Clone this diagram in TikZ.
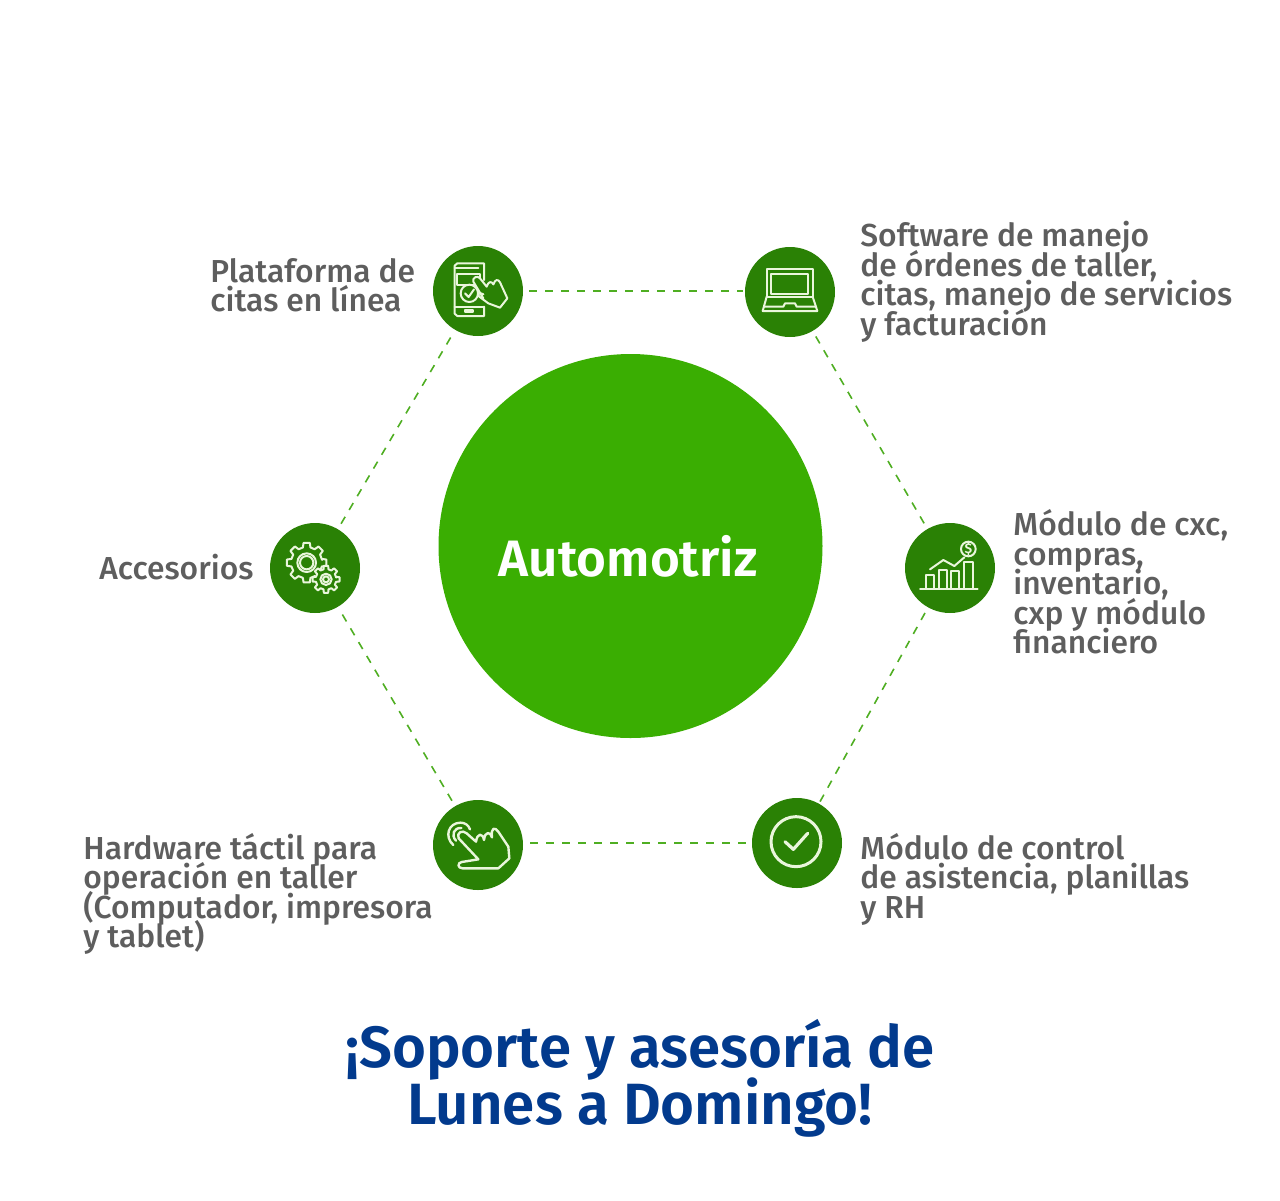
\documentclass[tikz,border=0pt]{standalone}
\usepackage{fontspec}
\setmainfont[BoldFont={Fira Sans SemiBold}]{Fira Sans Medium}
\usepackage{xcolor}
\usetikzlibrary{positioning}
\setlength{\lineskiplimit}{-20pt}
\definecolor{dashgreen}{HTML}{4FAE22}
\definecolor{bigreen}{HTML}{3AAE02}
\definecolor{hubgreen}{HTML}{2A8105}
\definecolor{iconline}{HTML}{EAF6DC}
\definecolor{labelgrey}{HTML}{5E5E5E}
\definecolor{titleblue}{HTML}{023A8D}
\tikzset{
    hub/.style={circle, fill=hubgreen, minimum size=45pt, inner sep=0pt},
    lab/.style={text=labelgrey, inner sep=0pt, align=left, font=\fontsize{15.9}{14.75}\selectfont},
    link/.style={draw=dashgreen, line width=0.8pt, dash pattern=on 4pt off 4pt, shorten >=1pt, shorten <=3pt},
    icon/.style={draw=iconline, line width=1pt, line join=round, line cap=round},
    zoomed/.style={shift={#1}, x=0.16667pt, y=-0.16667pt}
}
\newcommand{\gearicon}[5]{%
    \begin{scope}[shift={(#1,#2)}]
        \draw[icon, fill=hubgreen] (-10:#4)
            \foreach \a in {0,#5,...,359} {
                -- (\a-14:#4) -- (\a-9:#3) -- (\a+9:#3) -- (\a+14:#4)
            } -- cycle;
    \end{scope}}
\begin{document}
\begin{tikzpicture}[x=0.5pt, y=-0.5pt]
            \useasboundingbox (0,0) rectangle (1280,1200);
            \node [circle, fill=bigreen, minimum size=192pt, inner sep=0pt] (auto) at (630.5,546) {};
            \node [text=white, inner sep=0pt, font=\fontsize{25.6}{25.6}\selectfont\bfseries] (autotext) at (628,556) {Automotriz};

            \node [hub] (plat) at (478,291) {};
            \node [hub] (soft) at (790,292) {};
            \node [hub] (modu) at (950,568) {};
            \node [hub] (ctrl) at (797,843) {};
            \node [hub] (hard) at (478,845) {};
            \node [hub] (acce) at (315,568) {};

            \path [link] (plat.east) -- (plat.east -| soft.west);
            \path [link] (soft) -- (modu);
            \path [link] (modu) -- (ctrl);
            \path [link] (ctrl.west) -- (ctrl.west -| hard.east);
            \path [link] (hard) -- (acce);
            \path [link] (acce) -- (plat);

            \node [lab, anchor=west] (platlab) at (210,285) {Plataforma de\\citas en línea};
            \node [lab, anchor=west] (softlab) at (860,282) {Software de manejo\\de órdenes de taller,\\citas, manejo de servicios\\y facturación};
            \node [lab, anchor=west] (modulab) at (1013,582) {Módulo de cxc,\\compras,\\inventario,\\cxp y módulo\\financiero};
            \node [lab, anchor=west] (ctrllab) at (860,879) {Módulo de control\\de asistencia, planillas\\y RH};
            \node [lab, anchor=west] (hardlab) at (83,894) {Hardware táctil para\\operación en taller\\(Computador, impresora\\y tablet)};
            \node [lab, anchor=west] (accelab) at (99,567) {Accesorios};

            \node [text=titleblue, inner sep=0pt, align=center, font=\fontsize{29.1}{28.5}\selectfont\bfseries] (title) at (640,1078) {¡Soporte y asesoría de\\Lunes a Domingo!};

            \begin{scope}[zoomed={(420,235)}]
                \draw [icon] (104,92) -- (112,85) -- (192,85) -- (192,135);
                \draw [icon] (104,92) -- (104,236) -- (112,243) -- (192,243) -- (192,215);
                \draw [icon] (104,98) -- (175,98);
                \draw [icon] (104,215) -- (192,215);
                \draw [icon] (135,225) rectangle (160,232);
                \draw [icon] (110,118) rectangle (180,150);
                \draw [icon, fill=hubgreen] (148,175) circle (26);
                \draw [icon] (135,175) -- (146,186) -- (162,163);
                \draw [icon, fill=hubgreen] (190,190) -- (160,140) .. controls (156,128) and (172,120) .. (180,130) -- (200,155) .. controls (205,138) and (215,138) .. (220,148) .. controls (225,132) and (235,132) .. (240,142) -- (262,190) -- (240,218) -- (205,205) -- (178,185) .. controls (170,178) and (180,170) .. (190,178);
            \end{scope}

            \begin{scope}[zoomed={(735,235)}]
                \draw [icon] (95,103) rectangle (233,185);
                \draw [icon] (107,117) rectangle (220,178);
                \draw [icon] (95,185) -- (83,228) -- (247,228) -- (233,185);
                \draw [icon] (88,215) -- (145,215) -- (150,205) -- (180,205) -- (185,215) -- (242,215);
            \end{scope}

            \begin{scope}[zoomed={(895,510)}]
                \draw [icon] (75,236) -- (248,236);
                \draw [icon] (93,236) -- (93,196) -- (117,196) -- (117,236);
                \draw [icon] (132,236) -- (132,180) -- (156,180) -- (156,236);
                \draw [icon] (168,236) -- (168,182) -- (192,182) -- (192,236);
                \draw [icon] (208,236) -- (208,155) -- (233,155) -- (233,236);
                \draw [icon] (105,178) -- (145,150) -- (178,168) -- (208,142);
                \draw [icon] (220,117) circle (22);
                \node [text=iconline, inner sep=0pt, font=\fontsize{7}{7}\selectfont\bfseries] (coin) at (220,117) {\$};
            \end{scope}

            \begin{scope}[zoomed={(260,510)}]
                \gearicon{140}{158}{60}{47}{45}
                \draw [icon] (140,158) circle (28);
                \draw [icon] (140,158) circle (20);
                \gearicon{198}{208}{41}{31}{45}
                \draw [icon] (198,208) circle (17);
                \draw [icon] (198,208) circle (9);
            \end{scope}

            \begin{scope}[zoomed={(420,790)}]
                \draw [icon, line width=1.2pt] (175,208) -- (116,145) .. controls (108,128) and (128,118) .. (140,130) -- (168,155) .. controls (172,128) and (188,128) .. (192,150) .. controls (195,122) and (212,125) .. (216,142) .. controls (212,112) and (225,110) .. (235,125) -- (265,170) -- (268,205) -- (235,235) -- (128,235) .. controls (112,235) and (112,218) .. (125,216) -- cycle;
                \draw [icon, line width=1.2pt] (100,165) .. controls (72,140) and (85,98) .. (122,98) .. controls (135,98) and (145,105) .. (150,118);
                \draw [icon, line width=1.2pt] (108,152) .. controls (92,135) and (102,112) .. (124,114);
            \end{scope}

            \begin{scope}[zoomed={(740,790)}]
                \draw [icon, line width=1.5pt] (168,155) circle (75);
                \draw [icon, line width=1.6pt] (135,155) -- (160,178) -- (203,130);
            \end{scope}
        \end{tikzpicture}
\end{document}
